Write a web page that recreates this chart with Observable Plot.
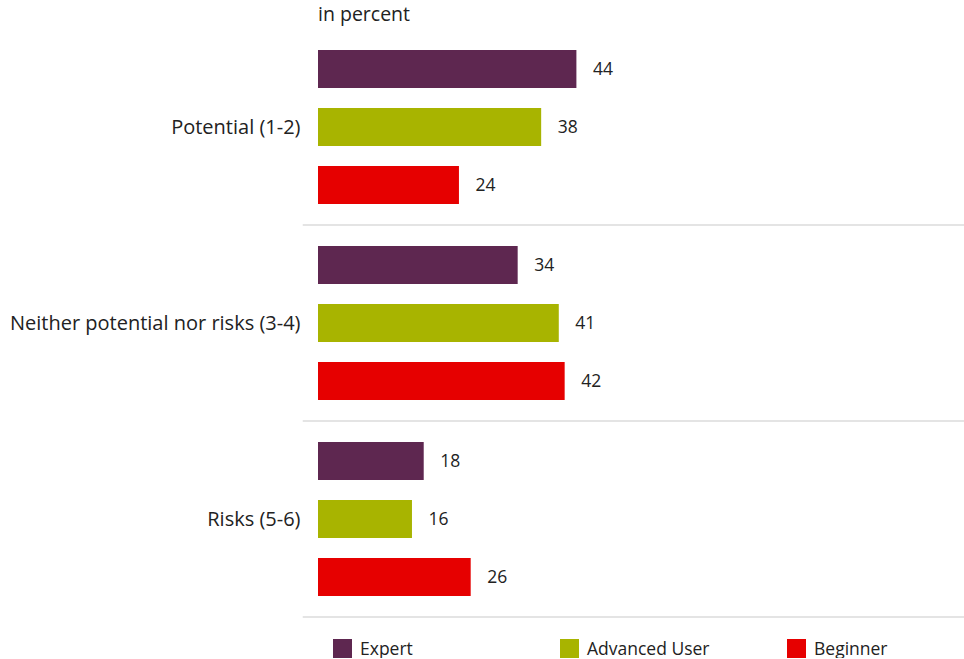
<!DOCTYPE html>
<html>
<head>
<meta charset="utf-8">
<script src="https://cdn.jsdelivr.net/npm/d3@7"></script>
<script src="https://cdn.jsdelivr.net/npm/@observablehq/plot@0.6"></script>
<style>
  body { margin: 0; background: #fff; font-family: "Open Sans", sans-serif; color: #222; overflow: hidden; }
  #unit { height: 28px; padding-left: 318px; font-size: 19.5px; line-height: 28px; }
  #legend { display: flex; padding-left: 333px; padding-top: 18px; font-size: 17.5px; line-height: 20px; }
  .item { display: flex; align-items: center; flex: 0 0 auto; }
  .item.w { width: 227px; }
  .sw { width: 19px; height: 19px; margin-right: 8px; }
</style>
</head>
<body>
<div id="unit">in percent</div>
<div id="chart"></div>
<div id="legend"></div>
<script>
const categories = ["Potential (1-2)", "Neither potential nor risks (3-4)", "Risks (5-6)"];
const series = ["Expert", "Advanced User", "Beginner"];
const expert = [44, 34, 18];
const advanced = [38, 41, 16];
const beginner = [24, 42, 26];
const colors = ["#5e2750", "#a8b400", "#e60000"];

const values = [expert, advanced, beginner];
const data = categories.flatMap((c, i) =>
  series.map((s, j) => ({category: c, series: s, value: values[j][i]})));

const H = 592, mB = 2, pad = 0.34;
const facetH = (H - mB) / categories.length;
const step = facetH / (series.length + pad);
const ruleDy = step * pad + step * (1 - pad) / 2;

const chart = Plot.plot({
  width: 964,
  height: H,
  marginTop: 0,
  marginBottom: mB,
  marginLeft: 318,
  marginRight: 0,
  style: {fontFamily: "Open Sans, sans-serif", color: "#222"},
  x: {domain: [0, 110], axis: null},
  y: {domain: series, padding: pad, axis: null},
  fy: {domain: categories, padding: 0, label: null},
  color: {domain: series, range: colors},
  marks: [
    Plot.ruleY(categories, {fy: d => d, y: () => "Beginner", dy: ruleDy, x1: -2.6, x2: 110, stroke: "#e4e4e4", strokeWidth: 2}),
    Plot.barX(data, {x: "value", y: "series", fy: "category", fill: "series"}),
    Plot.text(data, {x: "value", y: "series", fy: "category", text: d => String(d.value), textAnchor: "start", dx: 16, fontSize: 17.5, fill: "#222"}),
    Plot.axisFy({anchor: "left", tickSize: 0, tickPadding: 18, fontSize: 20, label: null, fill: "#222"})
  ]
});
document.getElementById("chart").appendChild(chart);

const legend = document.getElementById("legend");
series.forEach((s, i) => {
  const it = document.createElement("div");
  it.className = "item" + (i < series.length - 1 ? " w" : "");
  it.innerHTML = `<span class="sw" style="background:${colors[i]}"></span><span>${s}</span>`;
  legend.appendChild(it);
});
</script>
</body>
</html>
